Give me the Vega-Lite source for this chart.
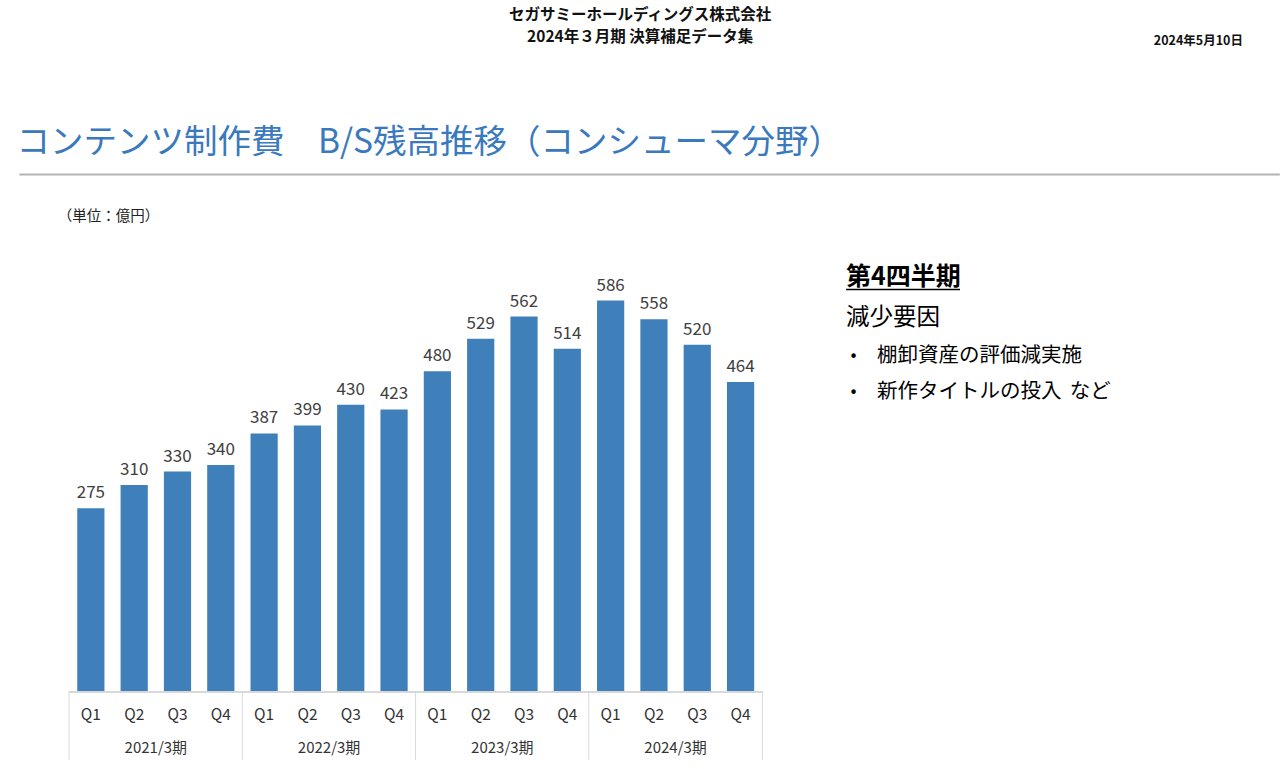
{
  "$schema": "https://vega.github.io/schema/vega-lite/v6.json",
  "width": 1280,
  "height": 769,
  "autosize": {"type": "none"},
  "padding": 0,
  "background": "white",
  "config": {
    "view": {"stroke": null},
    "font": "Noto Sans CJK JP",
    "axis": {"disable": true}
  },
  "datasets": {
    "bs": [
      {"fy": "2021/3期", "q": "Q1", "idx": 0, "value": 275},
      {"fy": "2021/3期", "q": "Q2", "idx": 1, "value": 310},
      {"fy": "2021/3期", "q": "Q3", "idx": 2, "value": 330},
      {"fy": "2021/3期", "q": "Q4", "idx": 3, "value": 340},
      {"fy": "2022/3期", "q": "Q1", "idx": 4, "value": 387},
      {"fy": "2022/3期", "q": "Q2", "idx": 5, "value": 399},
      {"fy": "2022/3期", "q": "Q3", "idx": 6, "value": 430},
      {"fy": "2022/3期", "q": "Q4", "idx": 7, "value": 423},
      {"fy": "2023/3期", "q": "Q1", "idx": 8, "value": 480},
      {"fy": "2023/3期", "q": "Q2", "idx": 9, "value": 529},
      {"fy": "2023/3期", "q": "Q3", "idx": 10, "value": 562},
      {"fy": "2023/3期", "q": "Q4", "idx": 11, "value": 514},
      {"fy": "2024/3期", "q": "Q1", "idx": 12, "value": 586},
      {"fy": "2024/3期", "q": "Q2", "idx": 13, "value": 558},
      {"fy": "2024/3期", "q": "Q3", "idx": 14, "value": 520},
      {"fy": "2024/3期", "q": "Q4", "idx": 15, "value": 464}
    ]
  },
  "data": {"name": "bs"},
  "layer": [
    {
      "mark": {"type": "bar", "size": 27.2, "color": "#3f7fba"},
      "encoding": {
        "x": {"field": "idx", "type": "quantitative", "axis": null,
              "scale": {"domain": [-1.9823, 27.338], "nice": false, "zero": false}},
        "y": {"field": "value", "type": "quantitative", "axis": null,
              "scale": {"domain": [-115.27, 1035.93], "nice": false, "zero": false}}
      }
    },
    {
      "mark": {"type": "text", "fontSize": 17, "color": "#404040", "baseline": "alphabetic", "dy": -10},
      "encoding": {
        "x": {"field": "idx", "type": "quantitative"},
        "y": {"field": "value", "type": "quantitative"},
        "text": {"field": "value", "type": "quantitative"}
      }
    },
    {
      "mark": {"type": "text", "fontSize": 15.5, "color": "#333333", "baseline": "middle"},
      "encoding": {
        "x": {"field": "idx", "type": "quantitative"},
        "y": {"datum": -34.4, "type": "quantitative"},
        "text": {"field": "q"}
      }
    },
    {
      "transform": [{"aggregate": [{"op": "mean", "field": "idx", "as": "mid"}], "groupby": ["fy"]}],
      "mark": {"type": "text", "fontSize": 15, "color": "#333333", "baseline": "middle"},
      "encoding": {
        "x": {"field": "mid", "type": "quantitative"},
        "y": {"datum": -84.5, "type": "quantitative"},
        "text": {"field": "fy"}
      }
    },
    {
      "mark": {"type": "rule", "color": "#d9d9d9", "strokeWidth": 1},
      "encoding": {
        "x": {"datum": -0.5, "type": "quantitative"},
        "x2": {"datum": 15.5},
        "y": {"datum": 0, "type": "quantitative"}
      }
    },
    {
      "transform": [{"filter": "datum.q === 'Q1'"}],
      "mark": {"type": "rule", "color": "#d9d9d9", "strokeWidth": 1, "xOffset": -21.83},
      "encoding": {
        "x": {"field": "idx", "type": "quantitative"},
        "y": {"datum": 0, "type": "quantitative"},
        "y2": {"datum": -101.8}
      }
    },
    {
      "transform": [{"filter": "datum.q === 'Q4' && datum.idx === 15"}],
      "mark": {"type": "rule", "color": "#d9d9d9", "strokeWidth": 1, "xOffset": 21.83},
      "encoding": {
        "x": {"field": "idx", "type": "quantitative"},
        "y": {"datum": 0, "type": "quantitative"},
        "y2": {"datum": -101.8}
      }
    },
    {
      "data": {"values": [{"t": "セガサミーホールディングス株式会社"}]},
      "mark": {"type": "text", "fontSize": 15.5, "fontWeight": "bold", "color": "#111111", "align": "center", "baseline": "middle"},
      "encoding": {
        "x": {"datum": 12.681, "type": "quantitative"},
        "y": {"datum": 1013.5, "type": "quantitative"},
        "text": {"field": "t"}
      }
    },
    {
      "data": {"values": [{"t": "2024年３月期 決算補足データ集"}]},
      "mark": {"type": "text", "fontSize": 15.5, "fontWeight": "bold", "color": "#111111", "align": "center", "baseline": "middle"},
      "encoding": {
        "x": {"datum": 12.681, "type": "quantitative"},
        "y": {"datum": 980.5, "type": "quantitative"},
        "text": {"field": "t"}
      }
    },
    {
      "data": {"values": [{"t": "2024年5月10日"}]},
      "mark": {"type": "text", "fontSize": 12.5, "fontWeight": "bold", "color": "#111111", "align": "right", "baseline": "middle"},
      "encoding": {
        "x": {"datum": 26.597, "type": "quantitative"},
        "y": {"datum": 974.6, "type": "quantitative"},
        "text": {"field": "t"}
      }
    },
    {
      "data": {"values": [{"t": "コンテンツ制作費　B/S残高推移（コンシューマ分野）"}]},
      "mark": {"type": "text", "fontSize": 33.5, "fontWeight": 400, "color": "#3a79bd", "align": "left", "baseline": "middle"},
      "encoding": {
        "x": {"datum": -1.719, "type": "quantitative"},
        "y": {"datum": 821.9, "type": "quantitative"},
        "text": {"field": "t"}
      }
    },
    {
      "data": {"values": [{"t": "line"}]},
      "mark": {"type": "rule", "color": "#b4b4b4", "strokeWidth": 2},
      "encoding": {
        "x": {"datum": -1.65, "type": "quantitative"},
        "x2": {"datum": 27.45},
        "y": {"datum": 774.7, "type": "quantitative"}
      }
    },
    {
      "data": {"values": [{"t": "（単位：億円）"}]},
      "mark": {"type": "text", "fontSize": 14.5, "color": "#222222", "align": "left", "baseline": "middle"},
      "encoding": {
        "x": {"datum": -0.765, "type": "quantitative"},
        "y": {"datum": 711.1, "type": "quantitative"},
        "text": {"field": "t"}
      }
    },
    {
      "data": {"values": [{"t": "第4四半期"}]},
      "mark": {"type": "text", "fontSize": 25, "fontWeight": "bold", "color": "#000000", "align": "left", "baseline": "middle"},
      "encoding": {
        "x": {"datum": 17.435, "type": "quantitative"},
        "y": {"datum": 621.3, "type": "quantitative"},
        "text": {"field": "t"}
      }
    },
    {
      "data": {"values": [{"t": "underline"}]},
      "mark": {"type": "rule", "color": "#000000", "strokeWidth": 1.5},
      "encoding": {
        "x": {"datum": 17.435, "type": "quantitative"},
        "x2": {"datum": 20.066},
        "y": {"datum": 602.5, "type": "quantitative"}
      }
    },
    {
      "data": {"values": [{"t": "減少要因"}]},
      "mark": {"type": "text", "fontSize": 23.5, "color": "#000000", "align": "left", "baseline": "middle"},
      "encoding": {
        "x": {"datum": 17.435, "type": "quantitative"},
        "y": {"datum": 559.9, "type": "quantitative"},
        "text": {"field": "t"}
      }
    },
    {
      "data": {"values": [{"t": "•"}]},
      "mark": {"type": "text", "fontSize": 18, "color": "#000000", "align": "center", "baseline": "middle"},
      "encoding": {
        "x": {"datum": 17.61, "type": "quantitative"},
        "y": {"datum": 503.0, "type": "quantitative"},
        "text": {"field": "t"}
      }
    },
    {
      "data": {"values": [{"t": "•"}]},
      "mark": {"type": "text", "fontSize": 18, "color": "#000000", "align": "center", "baseline": "middle"},
      "encoding": {
        "x": {"datum": 17.61, "type": "quantitative"},
        "y": {"datum": 449.1, "type": "quantitative"},
        "text": {"field": "t"}
      }
    },
    {
      "data": {"values": [{"t": "棚卸資産の評価減実施"}]},
      "mark": {"type": "text", "fontSize": 20.5, "color": "#000000", "align": "left", "baseline": "middle"},
      "encoding": {
        "x": {"datum": 18.15, "type": "quantitative"},
        "y": {"datum": 503.0, "type": "quantitative"},
        "text": {"field": "t"}
      }
    },
    {
      "data": {"values": [{"t": "新作タイトルの投入"}]},
      "mark": {"type": "text", "fontSize": 20.5, "color": "#000000", "align": "left", "baseline": "middle"},
      "encoding": {
        "x": {"datum": 18.15, "type": "quantitative"},
        "y": {"datum": 449.1, "type": "quantitative"},
        "text": {"field": "t"}
      }
    },
    {
      "data": {"values": [{"t": "など"}]},
      "mark": {"type": "text", "fontSize": 20.5, "color": "#000000", "align": "left", "baseline": "middle"},
      "encoding": {
        "x": {"datum": 22.6, "type": "quantitative"},
        "y": {"datum": 449.1, "type": "quantitative"},
        "text": {"field": "t"}
      }
    }
  ]
}
